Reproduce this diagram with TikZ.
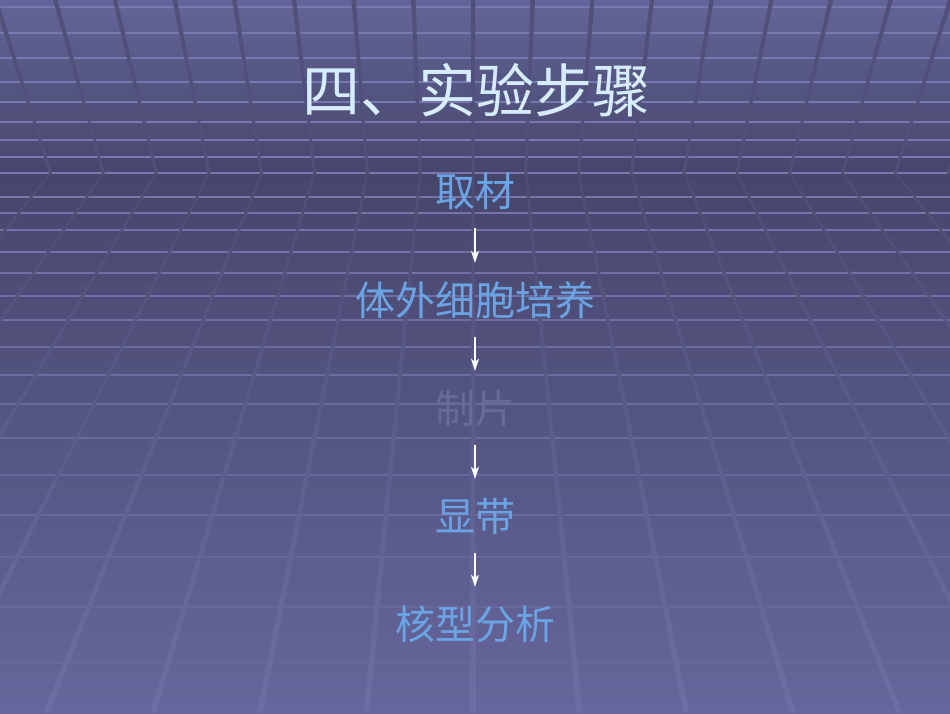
\documentclass[tikz,border=0pt]{standalone}
\usepackage{fontspec}
\newfontfamily\cjk{Noto Sans CJK SC}
\usetikzlibrary{arrows.meta}
\definecolor{bgtop}{RGB}{100,100,152}
\definecolor{bghor}{RGB}{70,70,108}
\definecolor{bgbot}{RGB}{102,102,156}
\definecolor{hline}{RGB}{120,120,176}
\definecolor{vceil}{RGB}{80,80,122}
\definecolor{vfloortop}{RGB}{76,76,116}
\definecolor{vfloorbot}{RGB}{110,110,164}
\definecolor{titlecol}{RGB}{214,236,255}
\definecolor{stepcol}{RGB}{106,164,228}
\definecolor{fadecol}{RGB}{106,106,152}
\begin{document}
\begin{tikzpicture}[x=1pt,y=-1pt,
  titlestyle/.style={inner sep=0pt, text height=50.5pt, text depth=7.5pt, text=titlecol, font=\cjk\fontsize{58}{64}\selectfont},
  stepbox/.style={inner sep=0pt, text height=34.8pt, text depth=5.2pt, text=stepcol, font=\cjk\fontsize{40}{46}\selectfont},
  fadebox/.style={stepbox, text=fadecol},
  flowarrow/.style={draw=white, line width=1.4pt, -{Stealth[length=12pt,width=8pt,inset=3pt]}, shorten <=16pt, shorten >=18pt},
  hgrid/.style={draw=hline, line width=2pt},
  vceilband/.style={fill=vceil, draw=none},
  vfloorband/.style={top color=vfloortop, bottom color=vfloorbot, draw=none}]
\useasboundingbox (0,0) rectangle (950,713);
\begin{scope}
  \clip (0,0) rectangle (950,713);
  \shade[top color=bgtop, bottom color=bghor] (0,0) rectangle (950,173);
  \shade[top color=bghor, bottom color=bgbot] (0,173) rectangle (950,713);
  \foreach \y in {7,33,58,82,102,122,140,157,173}
    \draw[hgrid] (0,\y) -- (950,\y);
  \foreach \y in {197,213,230,252,273,296,320,347,375,404,438,475,515,557,607,663} {
    \pgfmathsetmacro\op{1-(\y-173)/640}
    \draw[hgrid, draw opacity=\op] (0,\y) -- (950,\y);
  }
  \foreach \k in {-12,...,12} {
    \pgfmathsetmacro\xh{473+52.8*\k}
    \pgfmathsetmacro\xt{473+52.8*\k*1.13}
    \pgfmathsetmacro\xb{473+52.8*\k*2.02}
    \fill[vceilband] (\xt-2.2,0) -- (\xh-1.4,173) -- (\xh+1.4,173) -- (\xt+2.2,0) -- cycle;
    \shade[vfloorband] (\xh-1.4,173) -- (\xb-3,713) -- (\xb+3,713) -- (\xh+1.4,173) -- cycle;
  }
\end{scope}
\node[titlestyle] (title) at (476,90.5) {四、实验步骤};
\node[stepbox] (s1) at (475,192) {取材};
\node[stepbox] (s2) at (475,301) {体外细胞培养};
\node[fadebox] (s3) at (475,409) {制片};
\node[stepbox] (s4) at (475,517) {显带};
\node[stepbox] (s5) at (475,625) {核型分析};
\draw[flowarrow] (s1) -- (s2);
\draw[flowarrow] (s2) -- (s3);
\draw[flowarrow] (s3) -- (s4);
\draw[flowarrow] (s4) -- (s5);
\end{tikzpicture}
\end{document}
